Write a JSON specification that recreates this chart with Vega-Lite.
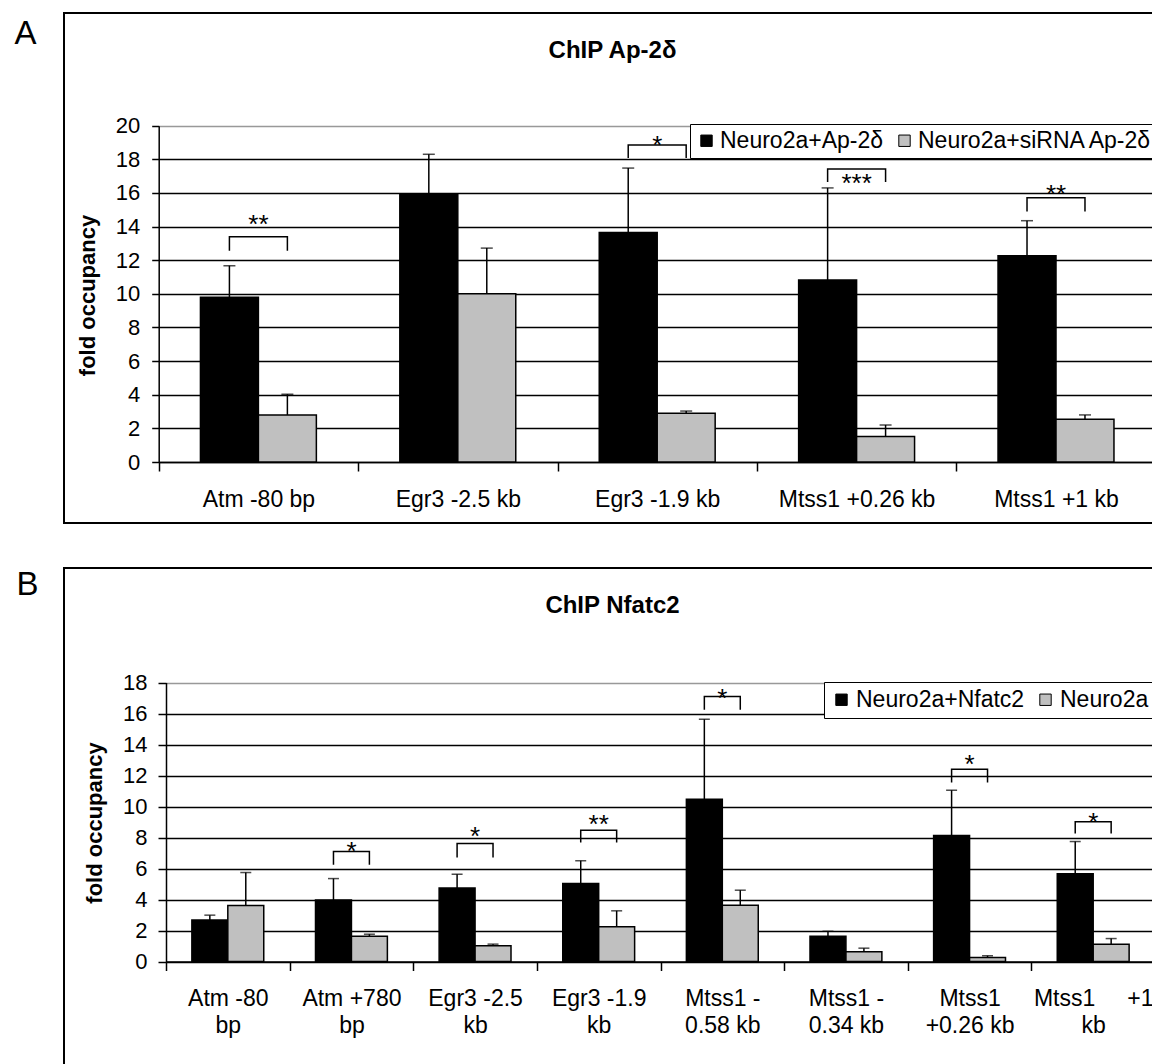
{
  "$schema": "https://vega.github.io/schema/vega-lite/v6.json",
  "background": "white",
  "padding": {"left": 13, "top": 12, "right": 0, "bottom": 0},
  "spacing": 43,
  "resolve": {"scale": {"x": "independent", "y": "independent", "xOffset": "independent", "color": "independent"}, "legend": {"color": "independent"}},
  "config": {
    "font": "Liberation Sans",
    "view": {"stroke": "black", "strokeWidth": 2, "fill": "white"},
    "axis": {"labelFont": "Liberation Sans", "titleFont": "Liberation Sans", "labelColor": "black", "titleColor": "black"},
    "legend": {"labelFont": "Liberation Sans"},
    "title": {"font": "Liberation Sans", "color": "black"}
  },
  "datasets": {
    "chipA": [
      {"site": "Atm -80 bp", "condition": "Neuro2a+Ap-2δ", "fold": 9.8, "error_top": 11.67},
      {"site": "Atm -80 bp", "condition": "Neuro2a+siRNA Ap-2δ", "fold": 2.8, "error_top": 4.03},
      {"site": "Egr3 -2.5 kb", "condition": "Neuro2a+Ap-2δ", "fold": 15.95, "error_top": 18.3},
      {"site": "Egr3 -2.5 kb", "condition": "Neuro2a+siRNA Ap-2δ", "fold": 10.0, "error_top": 12.72},
      {"site": "Egr3 -1.9 kb", "condition": "Neuro2a+Ap-2δ", "fold": 13.65, "error_top": 17.48},
      {"site": "Egr3 -1.9 kb", "condition": "Neuro2a+siRNA Ap-2δ", "fold": 2.9, "error_top": 3.03},
      {"site": "Mtss1 +0.26 kb", "condition": "Neuro2a+Ap-2δ", "fold": 10.82, "error_top": 16.3},
      {"site": "Mtss1 +0.26 kb", "condition": "Neuro2a+siRNA Ap-2δ", "fold": 1.51, "error_top": 2.2},
      {"site": "Mtss1 +1 kb", "condition": "Neuro2a+Ap-2δ", "fold": 12.26, "error_top": 14.35},
      {"site": "Mtss1 +1 kb", "condition": "Neuro2a+siRNA Ap-2δ", "fold": 2.54, "error_top": 2.8}
    ],
    "bracketA": [
      {"site": "Atm -80 bp", "condition": "Neuro2a+Ap-2δ", "y": 12.56, "pair": "a1", "step": 1},
      {"site": "Atm -80 bp", "condition": "Neuro2a+Ap-2δ", "y": 13.39, "pair": "a1", "step": 2},
      {"site": "Atm -80 bp", "condition": "Neuro2a+siRNA Ap-2δ", "y": 13.39, "pair": "a1", "step": 3},
      {"site": "Atm -80 bp", "condition": "Neuro2a+siRNA Ap-2δ", "y": 12.56, "pair": "a1", "step": 4},
      {"site": "Egr3 -1.9 kb", "condition": "Neuro2a+Ap-2δ", "y": 18.08, "pair": "a2", "step": 1},
      {"site": "Egr3 -1.9 kb", "condition": "Neuro2a+Ap-2δ", "y": 18.85, "pair": "a2", "step": 2},
      {"site": "Egr3 -1.9 kb", "condition": "Neuro2a+siRNA Ap-2δ", "y": 18.85, "pair": "a2", "step": 3},
      {"site": "Egr3 -1.9 kb", "condition": "Neuro2a+siRNA Ap-2δ", "y": 18.08, "pair": "a2", "step": 4},
      {"site": "Mtss1 +0.26 kb", "condition": "Neuro2a+Ap-2δ", "y": 16.65, "pair": "a3", "step": 1},
      {"site": "Mtss1 +0.26 kb", "condition": "Neuro2a+Ap-2δ", "y": 17.42, "pair": "a3", "step": 2},
      {"site": "Mtss1 +0.26 kb", "condition": "Neuro2a+siRNA Ap-2δ", "y": 17.42, "pair": "a3", "step": 3},
      {"site": "Mtss1 +0.26 kb", "condition": "Neuro2a+siRNA Ap-2δ", "y": 16.65, "pair": "a3", "step": 4},
      {"site": "Mtss1 +1 kb", "condition": "Neuro2a+Ap-2δ", "y": 14.9, "pair": "a4", "step": 1},
      {"site": "Mtss1 +1 kb", "condition": "Neuro2a+Ap-2δ", "y": 15.71, "pair": "a4", "step": 2},
      {"site": "Mtss1 +1 kb", "condition": "Neuro2a+siRNA Ap-2δ", "y": 15.71, "pair": "a4", "step": 3},
      {"site": "Mtss1 +1 kb", "condition": "Neuro2a+siRNA Ap-2δ", "y": 14.9, "pair": "a4", "step": 4}
    ],
    "starsA": [
      {"site": "Atm -80 bp", "y": 14.5, "mark": "**"},
      {"site": "Egr3 -1.9 kb", "y": 19.2, "mark": "*"},
      {"site": "Mtss1 +0.26 kb", "y": 16.95, "mark": "***"},
      {"site": "Mtss1 +1 kb", "y": 16.29, "mark": "**"}
    ],
    "chipB": [
      {"site": "Atm -80 bp", "condition": "Neuro2a+Nfatc2", "fold": 2.67, "error_top": 2.99},
      {"site": "Atm -80 bp", "condition": "Neuro2a", "fold": 3.61, "error_top": 5.74},
      {"site": "Atm +780 bp", "condition": "Neuro2a+Nfatc2", "fold": 3.96, "error_top": 5.35},
      {"site": "Atm +780 bp", "condition": "Neuro2a", "fold": 1.63, "error_top": 1.76},
      {"site": "Egr3 -2.5 kb", "condition": "Neuro2a+Nfatc2", "fold": 4.75, "error_top": 5.63},
      {"site": "Egr3 -2.5 kb", "condition": "Neuro2a", "fold": 1.01, "error_top": 1.12},
      {"site": "Egr3 -1.9 kb", "condition": "Neuro2a+Nfatc2", "fold": 5.03, "error_top": 6.5},
      {"site": "Egr3 -1.9 kb", "condition": "Neuro2a", "fold": 2.24, "error_top": 3.27},
      {"site": "Mtss1 -0.58 kb", "condition": "Neuro2a+Nfatc2", "fold": 10.47, "error_top": 15.63},
      {"site": "Mtss1 -0.58 kb", "condition": "Neuro2a", "fold": 3.63, "error_top": 4.6},
      {"site": "Mtss1 -0.34 kb", "condition": "Neuro2a+Nfatc2", "fold": 1.63, "error_top": 1.95},
      {"site": "Mtss1 -0.34 kb", "condition": "Neuro2a", "fold": 0.63, "error_top": 0.86},
      {"site": "Mtss1 +0.26 kb", "condition": "Neuro2a+Nfatc2", "fold": 8.13, "error_top": 11.05},
      {"site": "Mtss1 +0.26 kb", "condition": "Neuro2a", "fold": 0.26, "error_top": 0.37},
      {"site": "Mtss1 +1 kb", "condition": "Neuro2a+Nfatc2", "fold": 5.66, "error_top": 7.74},
      {"site": "Mtss1 +1 kb", "condition": "Neuro2a", "fold": 1.12, "error_top": 1.48}
    ],
    "bracketB": [
      {"site": "Atm +780 bp", "condition": "Neuro2a+Nfatc2", "y": 6.24, "pair": "b1", "step": 1},
      {"site": "Atm +780 bp", "condition": "Neuro2a+Nfatc2", "y": 7.1, "pair": "b1", "step": 2},
      {"site": "Atm +780 bp", "condition": "Neuro2a", "y": 7.1, "pair": "b1", "step": 3},
      {"site": "Atm +780 bp", "condition": "Neuro2a", "y": 6.24, "pair": "b1", "step": 4},
      {"site": "Egr3 -2.5 kb", "condition": "Neuro2a+Nfatc2", "y": 6.71, "pair": "b2", "step": 1},
      {"site": "Egr3 -2.5 kb", "condition": "Neuro2a+Nfatc2", "y": 7.61, "pair": "b2", "step": 2},
      {"site": "Egr3 -2.5 kb", "condition": "Neuro2a", "y": 7.61, "pair": "b2", "step": 3},
      {"site": "Egr3 -2.5 kb", "condition": "Neuro2a", "y": 6.71, "pair": "b2", "step": 4},
      {"site": "Egr3 -1.9 kb", "condition": "Neuro2a+Nfatc2", "y": 7.68, "pair": "b3", "step": 1},
      {"site": "Egr3 -1.9 kb", "condition": "Neuro2a+Nfatc2", "y": 8.47, "pair": "b3", "step": 2},
      {"site": "Egr3 -1.9 kb", "condition": "Neuro2a", "y": 8.47, "pair": "b3", "step": 3},
      {"site": "Egr3 -1.9 kb", "condition": "Neuro2a", "y": 7.68, "pair": "b3", "step": 4},
      {"site": "Mtss1 -0.58 kb", "condition": "Neuro2a+Nfatc2", "y": 16.24, "pair": "b4", "step": 1},
      {"site": "Mtss1 -0.58 kb", "condition": "Neuro2a+Nfatc2", "y": 17.1, "pair": "b4", "step": 2},
      {"site": "Mtss1 -0.58 kb", "condition": "Neuro2a", "y": 17.1, "pair": "b4", "step": 3},
      {"site": "Mtss1 -0.58 kb", "condition": "Neuro2a", "y": 16.24, "pair": "b4", "step": 4},
      {"site": "Mtss1 +0.26 kb", "condition": "Neuro2a+Nfatc2", "y": 11.55, "pair": "b5", "step": 1},
      {"site": "Mtss1 +0.26 kb", "condition": "Neuro2a+Nfatc2", "y": 12.41, "pair": "b5", "step": 2},
      {"site": "Mtss1 +0.26 kb", "condition": "Neuro2a", "y": 12.41, "pair": "b5", "step": 3},
      {"site": "Mtss1 +0.26 kb", "condition": "Neuro2a", "y": 11.55, "pair": "b5", "step": 4},
      {"site": "Mtss1 +1 kb", "condition": "Neuro2a+Nfatc2", "y": 8.26, "pair": "b6", "step": 1},
      {"site": "Mtss1 +1 kb", "condition": "Neuro2a+Nfatc2", "y": 9.01, "pair": "b6", "step": 2},
      {"site": "Mtss1 +1 kb", "condition": "Neuro2a", "y": 9.01, "pair": "b6", "step": 3},
      {"site": "Mtss1 +1 kb", "condition": "Neuro2a", "y": 8.26, "pair": "b6", "step": 4}
    ],
    "starsB": [
      {"site": "Atm +780 bp", "y": 7.5, "mark": "*"},
      {"site": "Egr3 -2.5 kb", "y": 8.5, "mark": "*"},
      {"site": "Egr3 -1.9 kb", "y": 9.23, "mark": "**"},
      {"site": "Mtss1 -0.58 kb", "y": 17.4, "mark": "*"},
      {"site": "Mtss1 +0.26 kb", "y": 13.1, "mark": "*"},
      {"site": "Mtss1 +1 kb", "y": 9.4, "mark": "*"}
    ]
  },
  "vconcat": [
    {
      "width": 1097,
      "height": 510,
      "title": {"text": "ChIP Ap-2δ", "fontSize": 24, "fontWeight": "bold", "offset": -69, "baseline": "alphabetic", "anchor": "middle"},
      "layer": [
        {
          "data": {"name": "chipA"},
          "mark": {"type": "bar", "stroke": "black", "strokeWidth": 1.5},
          "encoding": {
            "x": {
              "field": "site", "type": "nominal",
              "scale": {"domain": ["Atm -80 bp", "Egr3 -2.5 kb", "Egr3 -1.9 kb", "Mtss1 +0.26 kb", "Mtss1 +1 kb"], "range": [94.7, 1091.7], "paddingInner": 0, "paddingOuter": 0},
              "axis": {
                "title": "A", "titleX": -50, "titleY": -419, "titleAlign": "left", "titleBaseline": "alphabetic", "titleFontSize": 33, "titleFontWeight": "normal", "titleAngle": 0,
                "offset": -61, "tickBand": "extent", "tickSize": 9, "tickWidth": 1.5, "tickColor": "black", "domainColor": "black", "domainWidth": 1.5,
                "labelAngle": 0, "labelFontSize": 23, "labelPadding": 35, "labelBaseline": "alphabetic", "grid": false, "labelLimit": 300,
                "labelExpr": "datum.value ? datum.label : ''"
              }
            },
            "xOffset": {"field": "condition", "type": "nominal", "scale": {"domain": ["Neuro2a+Ap-2δ", "Neuro2a+siRNA Ap-2δ"], "paddingInner": 0, "paddingOuter": 0.72}},
            "y": {
              "field": "fold", "type": "quantitative",
              "scale": {"domain": [0, 20], "range": [449, 112.7], "nice": false},
              "axis": {
                "title": "fold occupancy", "titleFontSize": 22, "titleFontWeight": "bold", "titleX": -64.7, "titleY": 282, "titleAngle": -90, "titleAlign": "center", "titleBaseline": "alphabetic",
                "offset": -94.7, "values": [0, 2, 4, 6, 8, 10, 12, 14, 16, 18, 20], "tickSize": 7, "tickWidth": 1.5, "tickColor": "black",
                "domainColor": "black", "domainWidth": 1.5, "labelFontSize": 22, "labelPadding": 12,
                "grid": true, "gridColor": {"condition": {"test": "datum.value === 20", "value": "#999999"}, "value": "black"}, "gridWidth": 1.5
              }
            },
            "color": {
              "field": "condition", "type": "nominal",
              "scale": {"domain": ["Neuro2a+Ap-2δ", "Neuro2a+siRNA Ap-2δ"], "range": ["#000000", "#c0c0c0"]},
              "legend": {
                "title": null, "orient": "none", "legendX": 626, "legendY": 111, "direction": "horizontal",
                "strokeColor": "black", "fillColor": "white", "padding": 5, "labelFontSize": 23, "labelColor": "black",
                "symbolType": "square", "symbolSize": 130, "symbolStrokeColor": "black", "symbolStrokeWidth": 1, "symbolOpacity": 1,
                "labelOffset": 2, "columnPadding": 9, "labelLimit": 400
              }
            }
          }
        },
        {
          "data": {"name": "chipA"},
          "mark": {"type": "rule", "color": "black", "strokeWidth": 1.5},
          "encoding": {
            "x": {"field": "site", "type": "nominal"},
            "xOffset": {"field": "condition", "type": "nominal"},
            "y": {"field": "fold", "type": "quantitative"},
            "y2": {"field": "error_top"}
          }
        },
        {
          "data": {"name": "chipA"},
          "mark": {"type": "tick", "color": "black", "thickness": 1.5, "size": 12, "orient": "horizontal"},
          "encoding": {
            "x": {"field": "site", "type": "nominal"},
            "xOffset": {"field": "condition", "type": "nominal"},
            "y": {"field": "error_top", "type": "quantitative"}
          }
        },
        {
          "data": {"name": "bracketA"},
          "mark": {"type": "line", "color": "black", "strokeWidth": 1.5},
          "encoding": {
            "x": {"field": "site", "type": "nominal"},
            "xOffset": {"field": "condition", "type": "nominal"},
            "y": {"field": "y", "type": "quantitative"},
            "detail": {"field": "pair", "type": "nominal"},
            "order": {"field": "step", "type": "quantitative"}
          }
        },
        {
          "data": {"name": "starsA"},
          "mark": {"type": "text", "fontSize": 26, "baseline": "alphabetic", "dy": 15, "color": "black", "font": "Liberation Sans"},
          "encoding": {
            "x": {"field": "site", "type": "nominal"},
            "y": {"field": "y", "type": "quantitative"},
            "text": {"field": "mark", "type": "nominal"}
          }
        }
      ]
    },
    {
      "width": 1097,
      "height": 505,
      "title": {"text": "ChIP Nfatc2", "fontSize": 24, "fontWeight": "bold", "offset": -68.5, "baseline": "alphabetic", "anchor": "middle"},
      "layer": [
        {
          "data": {"name": "chipB"},
          "mark": {"type": "bar", "stroke": "black", "strokeWidth": 1.5},
          "encoding": {
            "x": {
              "field": "site", "type": "nominal",
              "scale": {"domain": ["Atm -80 bp", "Atm +780 bp", "Egr3 -2.5 kb", "Egr3 -1.9 kb", "Mtss1 -0.58 kb", "Mtss1 -0.34 kb", "Mtss1 +0.26 kb", "Mtss1 +1 kb"], "range": [102, 1091], "paddingInner": 0, "paddingOuter": 0},
              "axis": {
                "title": "B", "titleX": -48, "titleY": -367, "titleAlign": "left", "titleBaseline": "alphabetic", "titleFontSize": 33, "titleFontWeight": "normal", "titleAngle": 0,
                "offset": -111.5, "tickBand": "extent", "tickSize": 9, "tickWidth": 1.5, "tickColor": "black", "domainColor": "black", "domainWidth": 1.5,
                "labelAngle": 0, "labelFontSize": 23, "labelPadding": 35, "labelBaseline": "alphabetic", "labelLineHeight": 27, "grid": false, "labelLimit": 300,
                "labelExpr": "datum.value == 'Atm -80 bp' ? ['Atm -80', 'bp'] : datum.value == 'Atm +780 bp' ? ['Atm +780', 'bp'] : datum.value == 'Egr3 -2.5 kb' ? ['Egr3 -2.5', 'kb'] : datum.value == 'Egr3 -1.9 kb' ? ['Egr3 -1.9', 'kb'] : datum.value == 'Mtss1 -0.58 kb' ? ['Mtss1 -', '0.58 kb'] : datum.value == 'Mtss1 -0.34 kb' ? ['Mtss1 -', '0.34 kb'] : datum.value == 'Mtss1 +0.26 kb' ? ['Mtss1', '+0.26 kb'] : datum.value == 'Mtss1 +1 kb' ? ['Mtss1\u00a0\u00a0\u00a0\u00a0\u00a0+1', 'kb'] : ''"
              }
            },
            "xOffset": {"field": "condition", "type": "nominal", "scale": {"domain": ["Neuro2a+Nfatc2", "Neuro2a"], "paddingInner": 0, "paddingOuter": 0.72}},
            "y": {
              "field": "fold", "type": "quantitative",
              "scale": {"domain": [0, 18], "range": [393.5, 114.5], "nice": false},
              "axis": {
                "title": "fold occupancy", "titleFontSize": 22, "titleFontWeight": "bold", "titleX": -65, "titleY": 254.5, "titleAngle": -90, "titleAlign": "center", "titleBaseline": "alphabetic",
                "offset": -102, "values": [0, 2, 4, 6, 8, 10, 12, 14, 16, 18], "tickSize": 8, "tickWidth": 1.5, "tickColor": "black",
                "domainColor": "black", "domainWidth": 1.5, "labelFontSize": 22, "labelPadding": 11,
                "grid": true, "gridColor": {"condition": {"test": "datum.value === 18", "value": "#999999"}, "value": "black"}, "gridWidth": 1.5
              }
            },
            "color": {
              "field": "condition", "type": "nominal",
              "scale": {"domain": ["Neuro2a+Nfatc2", "Neuro2a"], "range": ["#000000", "#c0c0c0"]},
              "legend": {
                "title": null, "orient": "none", "legendX": 760, "legendY": 114, "direction": "horizontal",
                "strokeColor": "black", "fillColor": "white", "padding": 6, "labelFontSize": 23, "labelColor": "black",
                "symbolType": "square", "symbolSize": 130, "symbolStrokeColor": "black", "symbolStrokeWidth": 1, "symbolOpacity": 1,
                "labelOffset": 3, "columnPadding": 9, "labelLimit": 400
              }
            }
          }
        },
        {
          "data": {"name": "chipB"},
          "mark": {"type": "rule", "color": "black", "strokeWidth": 1.5},
          "encoding": {
            "x": {"field": "site", "type": "nominal"},
            "xOffset": {"field": "condition", "type": "nominal"},
            "y": {"field": "fold", "type": "quantitative"},
            "y2": {"field": "error_top"}
          }
        },
        {
          "data": {"name": "chipB"},
          "mark": {"type": "tick", "color": "black", "thickness": 1.5, "size": 11, "orient": "horizontal"},
          "encoding": {
            "x": {"field": "site", "type": "nominal"},
            "xOffset": {"field": "condition", "type": "nominal"},
            "y": {"field": "error_top", "type": "quantitative"}
          }
        },
        {
          "data": {"name": "bracketB"},
          "mark": {"type": "line", "color": "black", "strokeWidth": 1.5},
          "encoding": {
            "x": {"field": "site", "type": "nominal"},
            "xOffset": {"field": "condition", "type": "nominal"},
            "y": {"field": "y", "type": "quantitative"},
            "detail": {"field": "pair", "type": "nominal"},
            "order": {"field": "step", "type": "quantitative"}
          }
        },
        {
          "data": {"name": "starsB"},
          "mark": {"type": "text", "fontSize": 26, "baseline": "alphabetic", "dy": 15, "color": "black", "font": "Liberation Sans"},
          "encoding": {
            "x": {"field": "site", "type": "nominal"},
            "y": {"field": "y", "type": "quantitative"},
            "text": {"field": "mark", "type": "nominal"}
          }
        }
      ]
    }
  ]
}
